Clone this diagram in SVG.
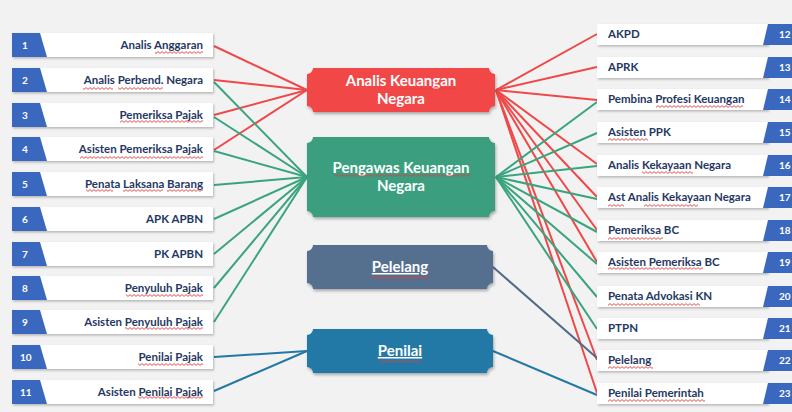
<svg xmlns="http://www.w3.org/2000/svg" width="792" height="412" viewBox="0 0 792 412">
<defs>
<filter id="sh" x="-10%" y="-20%" width="120%" height="150%">
<feDropShadow dx="1" dy="2" stdDeviation="1.5" flood-color="#000" flood-opacity="0.3"/>
</filter>
<filter id="bs" x="-5%" y="-20%" width="110%" height="150%">
<feDropShadow dx="1" dy="1.5" stdDeviation="1" flood-color="#000" flood-opacity="0.25"/>
</filter>
<pattern id="wave" x="0" y="0" width="4" height="3" patternUnits="userSpaceOnUse">
<path d="M0,2.4 L2,0.6 L4,2.4" fill="none" stroke="#e23b3b" stroke-width="0.9"/>
</pattern>
<style>
.box{fill:#ffffff;filter:url(#bs)}
.tab{fill:#3b68bf}
.lt{font-family:Lato,"Liberation Sans",sans-serif;font-weight:bold;font-size:11.5px;fill:#1f3864}
.num{font-family:Lato,"Liberation Sans",sans-serif;font-weight:bold;font-size:10px;fill:#ffffff}
.nt{font-family:Lato,"Liberation Sans",sans-serif;font-weight:bold;font-size:15px;fill:#ffffff;text-anchor:middle}
.r{stroke:#f04848;stroke-width:2;fill:none}
.g{stroke:#3aa47e;stroke-width:2;fill:none}
.s{stroke:#4f6a88;stroke-width:2;fill:none}
.b{stroke:#2478a4;stroke-width:2;fill:none}
.w{fill:url(#wave)}
</style>
</defs>
<rect x="0" y="0" width="792" height="412" fill="#f2f2f2"/>

<g id="connectors">
<line class="r" x1="307" y1="90" x2="214" y2="46"/>
<line class="r" x1="307" y1="90" x2="214" y2="80"/>
<line class="r" x1="307" y1="90" x2="214" y2="115"/>
<line class="r" x1="307" y1="90" x2="214" y2="150"/>
<line class="g" x1="307" y1="177" x2="214" y2="82"/>
<line class="g" x1="307" y1="177" x2="214" y2="117"/>
<line class="g" x1="307" y1="177" x2="214" y2="151"/>
<line class="g" x1="307" y1="177" x2="214" y2="185"/>
<line class="g" x1="307" y1="177" x2="214" y2="219"/>
<line class="g" x1="307" y1="177" x2="214" y2="254"/>
<line class="g" x1="307" y1="177" x2="214" y2="288"/>
<line class="g" x1="307" y1="177" x2="214" y2="322"/>
<line class="b" x1="307" y1="351" x2="214" y2="357"/>
<line class="b" x1="307" y1="351" x2="214" y2="391"/>
<line class="r" x1="496" y1="90" x2="597" y2="34"/>
<line class="r" x1="496" y1="90" x2="597" y2="67"/>
<line class="r" x1="496" y1="90" x2="597" y2="100"/>
<line class="r" x1="496" y1="90" x2="597" y2="164"/>
<line class="r" x1="496" y1="90" x2="597" y2="197"/>
<line class="r" x1="496" y1="90" x2="597" y2="230"/>
<line class="r" x1="496" y1="90" x2="597" y2="262"/>
<line class="r" x1="496" y1="90" x2="597" y2="360"/>
<line class="r" x1="496" y1="90" x2="597" y2="393"/>
<line class="g" x1="496" y1="177" x2="597" y2="102"/>
<line class="g" x1="496" y1="177" x2="597" y2="133"/>
<line class="g" x1="496" y1="177" x2="597" y2="166"/>
<line class="g" x1="496" y1="177" x2="597" y2="199"/>
<line class="g" x1="496" y1="177" x2="597" y2="232"/>
<line class="g" x1="496" y1="177" x2="597" y2="264"/>
<line class="g" x1="496" y1="177" x2="597" y2="297"/>
<line class="g" x1="496" y1="177" x2="597" y2="329"/>
<line class="s" x1="493" y1="267" x2="597" y2="358"/>
<line class="b" x1="493" y1="351" x2="597" y2="395"/>
</g>

<g id="node-analis-keuangan-negara">
<path d="M313,68 H489 A6,6 0 0 0 495,74 V106 A6,6 0 0 0 489,112 H313 A6,6 0 0 0 307,106 V74 A6,6 0 0 0 313,68 Z" fill="#f24646" filter="url(#sh)"/>
<text class="nt" x="401" y="86">Analis Keuangan</text>
<text class="nt" x="401" y="104">Negara</text>
<rect class="w" x="399" y="87" width="58" height="3"/>
</g>
<g id="node-pengawas-keuangan-negara">
<path d="M313,137 H489 A6,6 0 0 0 495,143 V211 A6,6 0 0 0 489,217 H313 A6,6 0 0 0 307,211 V143 A6,6 0 0 0 313,137 Z" fill="#3a9f7f" filter="url(#sh)"/>
<text class="nt" x="401" y="173">Pengawas Keuangan</text>
<text class="nt" x="401" y="191">Negara</text>
<rect class="w" x="334" y="174" width="136" height="3"/>
</g>
<g id="node-pelelang">
<path d="M313,245 H487 A6,6 0 0 0 493,251 V283 A6,6 0 0 0 487,289 H313 A6,6 0 0 0 307,283 V251 A6,6 0 0 0 313,245 Z" fill="#54708f" filter="url(#sh)"/>
<text class="nt" x="400" y="272" text-decoration="underline">Pelelang</text>
<rect class="w" x="372" y="276" width="56" height="3"/>
</g>
<g id="node-penilai">
<path d="M313,329 H487 A6,6 0 0 0 493,335 V367 A6,6 0 0 0 487,373 H313 A6,6 0 0 0 307,367 V335 A6,6 0 0 0 313,329 Z" fill="#2379a6" filter="url(#sh)"/>
<text class="nt" x="400" y="356" text-decoration="underline">Penilai</text>
<rect class="w" x="378" y="360" width="44" height="3"/>
</g>

<g id="left-1"><rect class="box" x="12" y="33" width="201" height="24"/><polygon class="tab" points="12,33 40,33 47,57 12,57"/><text class="num" x="22" y="49">1</text><text class="lt" x="203" y="49" text-anchor="end">Analis Anggaran</text><rect class="w" x="155" y="51" width="48" height="3"/></g>
<g id="left-2"><rect class="box" x="12" y="68" width="201" height="24"/><polygon class="tab" points="12,68 40,68 47,92 12,92"/><text class="num" x="22" y="84">2</text><text class="lt" x="203" y="84" text-anchor="end">Analis Perbend. Negara</text><rect class="w" x="83" y="87" width="30" height="3"/><rect class="w" x="118" y="87" width="45" height="3"/></g>
<g id="left-3"><rect class="box" x="12" y="103" width="201" height="24"/><polygon class="tab" points="12,103 40,103 47,127 12,127"/><text class="num" x="22" y="119">3</text><text class="lt" x="203" y="119" text-anchor="end">Pemeriksa Pajak</text><rect class="w" x="120" y="120" width="83" height="3"/></g>
<g id="left-4"><rect class="box" x="12" y="137" width="201" height="24"/><polygon class="tab" points="12,137 40,137 47,161 12,161"/><text class="num" x="22" y="153">4</text><text class="lt" x="203" y="153" text-anchor="end">Asisten Pemeriksa Pajak</text><rect class="w" x="80" y="156" width="123" height="3"/></g>
<g id="left-5"><rect class="box" x="12" y="172" width="201" height="24"/><polygon class="tab" points="12,172 40,172 47,196 12,196"/><text class="num" x="22" y="188">5</text><text class="lt" x="203" y="188" text-anchor="end">Penata Laksana Barang</text><rect class="w" x="86" y="189" width="27" height="3"/><rect class="w" x="123" y="189" width="40" height="3"/><rect class="w" x="167" y="189" width="36" height="3"/></g>
<g id="left-6"><rect class="box" x="12" y="207" width="201" height="24"/><polygon class="tab" points="12,207 40,207 47,231 12,231"/><text class="num" x="22" y="223">6</text><text class="lt" x="203" y="223" text-anchor="end">APK APBN</text></g>
<g id="left-7"><rect class="box" x="12" y="242" width="201" height="24"/><polygon class="tab" points="12,242 40,242 47,266 12,266"/><text class="num" x="22" y="258">7</text><text class="lt" x="203" y="258" text-anchor="end">PK APBN</text></g>
<g id="left-8"><rect class="box" x="12" y="276" width="201" height="24"/><polygon class="tab" points="12,276 40,276 47,300 12,300"/><text class="num" x="22" y="292">8</text><text class="lt" x="203" y="292" text-anchor="end">Penyuluh Pajak</text><rect class="w" x="126" y="294" width="77" height="3"/></g>
<g id="left-9"><rect class="box" x="12" y="310" width="201" height="24"/><polygon class="tab" points="12,310 40,310 47,334 12,334"/><text class="num" x="22" y="326">9</text><text class="lt" x="203" y="326" text-anchor="end">Asisten Penyuluh Pajak</text><rect class="w" x="125" y="327" width="78" height="3"/></g>
<g id="left-10"><rect class="box" x="12" y="345" width="201" height="24"/><polygon class="tab" points="12,345 40,345 47,369 12,369"/><text class="num" x="20" y="361">10</text><text class="lt" x="203" y="361" text-anchor="end">Penilai Pajak</text><rect class="w" x="138" y="363" width="65" height="3"/></g>
<g id="left-11"><rect class="box" x="12" y="380" width="201" height="24"/><polygon class="tab" points="12,380 40,380 47,404 12,404"/><text class="num" x="20" y="396">11</text><text class="lt" x="203" y="396" text-anchor="end">Asisten Penilai Pajak</text><rect class="w" x="138" y="396" width="65" height="3"/></g>

<g id="right-12"><rect class="box" x="597" y="24" width="171" height="21"/><polygon class="tab" points="768,24 792,24 792,45 763,45"/><text class="num" x="779" y="38">12</text><text class="lt" x="608" y="38">AKPD</text></g>
<g id="right-13"><rect class="box" x="597" y="57" width="171" height="21"/><polygon class="tab" points="768,57 792,57 792,78 763,78"/><text class="num" x="779" y="71">13</text><text class="lt" x="608" y="71">APRK</text></g>
<g id="right-14"><rect class="box" x="597" y="89" width="171" height="21"/><polygon class="tab" points="768,89 792,89 792,110 763,110"/><text class="num" x="779" y="103">14</text><text class="lt" x="608" y="103">Pembina Profesi Keuangan</text><rect class="w" x="656" y="105" width="87" height="3"/></g>
<g id="right-15"><rect class="box" x="597" y="122" width="171" height="21"/><polygon class="tab" points="768,122 792,122 792,143 763,143"/><text class="num" x="779" y="136">15</text><text class="lt" x="608" y="136">Asisten PPK</text><rect class="w" x="608" y="138" width="40" height="3"/></g>
<g id="right-16"><rect class="box" x="597" y="155" width="171" height="21"/><polygon class="tab" points="768,155 792,155 792,176 763,176"/><text class="num" x="779" y="169">16</text><text class="lt" x="608" y="169">Analis Kekayaan Negara</text><rect class="w" x="642" y="171" width="51" height="3"/></g>
<g id="right-17"><rect class="box" x="597" y="187" width="171" height="21"/><polygon class="tab" points="768,187 792,187 792,208 763,208"/><text class="num" x="779" y="201">17</text><text class="lt" x="608" y="201">Ast Analis Kekayaan Negara</text><rect class="w" x="608" y="204" width="16" height="3"/><rect class="w" x="644" y="204" width="54" height="3"/></g>
<g id="right-18"><rect class="box" x="597" y="220" width="171" height="21"/><polygon class="tab" points="768,220 792,220 792,241 763,241"/><text class="num" x="779" y="234">18</text><text class="lt" x="608" y="234">Pemeriksa BC</text><rect class="w" x="608" y="237" width="55" height="3"/></g>
<g id="right-19"><rect class="box" x="597" y="252" width="171" height="21"/><polygon class="tab" points="768,252 792,252 792,273 763,273"/><text class="num" x="779" y="266">19</text><text class="lt" x="608" y="266">Asisten Pemeriksa BC</text><rect class="w" x="608" y="267" width="95" height="3"/></g>
<g id="right-20"><rect class="box" x="597" y="286" width="171" height="21"/><polygon class="tab" points="768,286 792,286 792,307 763,307"/><text class="num" x="779" y="300">20</text><text class="lt" x="608" y="300">Penata Advokasi KN</text><rect class="w" x="608" y="303" width="92" height="3"/></g>
<g id="right-21"><rect class="box" x="597" y="318" width="171" height="21"/><polygon class="tab" points="768,318 792,318 792,339 763,339"/><text class="num" x="779" y="332">21</text><text class="lt" x="608" y="332">PTPN</text></g>
<g id="right-22"><rect class="box" x="597" y="350" width="171" height="21"/><polygon class="tab" points="768,350 792,350 792,371 763,371"/><text class="num" x="779" y="364">22</text><text class="lt" x="608" y="364">Pelelang</text><rect class="w" x="608" y="366" width="45" height="3"/></g>
<g id="right-23"><rect class="box" x="597" y="383" width="171" height="21"/><polygon class="tab" points="768,383 792,383 792,404 763,404"/><text class="num" x="779" y="397">23</text><text class="lt" x="608" y="397">Penilai Pemerintah</text><rect class="w" x="608" y="399" width="97" height="3"/></g>
</svg>
